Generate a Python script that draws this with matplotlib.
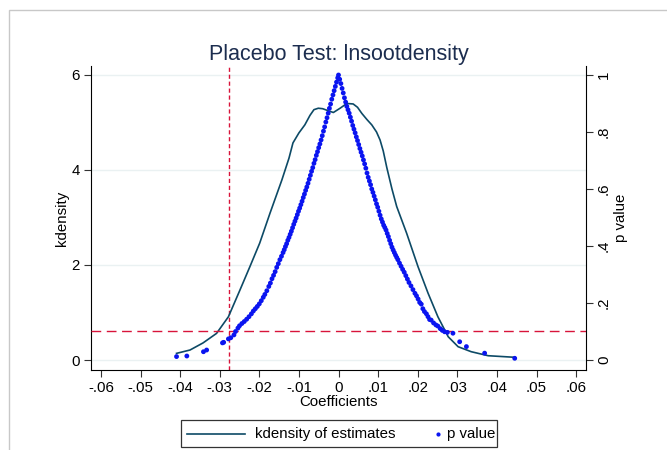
import matplotlib as mpl
mpl.use('Agg')
import matplotlib.pyplot as plt
from matplotlib.lines import Line2D
from matplotlib.patches import Rectangle

plt.rcParams['font.family'] = ['Liberation Sans', 'DejaVu Sans']

# kdensity of placebo estimates
kd_x = [-0.0409, -0.0375, -0.0342, -0.0308, -0.0278, -0.0249, -0.0224, -0.0199,
        -0.0173, -0.0143, -0.0125, -0.0115, -0.0100, -0.0085, -0.0072, -0.0062,
        -0.0051, -0.0040, -0.0030, -0.0013, 0.0004, 0.0021, 0.0037, 0.0048,
        0.0059, 0.0072, 0.0084, 0.0096, 0.0105, 0.0113, 0.0122, 0.0135, 0.0147,
        0.0172, 0.0201, 0.0226, 0.0251, 0.0277, 0.0302, 0.0335, 0.0378, 0.0445]
kd_y = [0.14, 0.21, 0.36, 0.56, 0.91, 1.47, 1.96, 2.46,
        3.09, 3.79, 4.25, 4.57, 4.78, 4.95, 5.15, 5.27,
        5.30, 5.29, 5.26, 5.21, 5.30, 5.40, 5.39, 5.32,
        5.19, 5.06, 4.95, 4.80, 4.63, 4.40, 4.05, 3.60, 3.23,
        2.67, 1.96, 1.41, 0.91, 0.49, 0.28, 0.175, 0.09, 0.057]

# p values of the placebo estimates
pv_x = [-0.0409, -0.0383, -0.0341, -0.0333, -0.0293, -0.0290, -0.0278, -0.0272,
        -0.0264, -0.0260, -0.0254, -0.0250, -0.0244, -0.0238, -0.0232, -0.0226,
        -0.0220, -0.0215, -0.0210, -0.0205, -0.0200, -0.0195, -0.0190, -0.0186,
        -0.0181, -0.0176, -0.0172, -0.0168, -0.0164, -0.0160, -0.0156, -0.0152,
        -0.0148, -0.0144, -0.0140, -0.0137, -0.0134, -0.0131, -0.0128, -0.0125,
        -0.0122, -0.0119, -0.0116, -0.0113, -0.0110, -0.0107, -0.0104, -0.0101,
        -0.0098, -0.0095, -0.0092, -0.0089, -0.0086, -0.0083, -0.0080, -0.0077,
        -0.0074, -0.0071, -0.0068, -0.0065, -0.0062, -0.0059, -0.0056, -0.0053,
        -0.0050, -0.0047, -0.0044, -0.0041, -0.0038, -0.0035, -0.0032, -0.0029,
        -0.0026, -0.0023, -0.0020, -0.0017, -0.0014, -0.0011, -0.0008, -0.0005,
        -0.0002, 0.0000,
        0.0003, 0.0006, 0.0009, 0.0012, 0.0015, 0.0018, 0.0021, 0.0024,
        0.0027, 0.0030, 0.0033, 0.0036, 0.0039, 0.0042, 0.0045, 0.0048,
        0.0051, 0.0054, 0.0057, 0.0060, 0.0063, 0.0066, 0.0069, 0.0072,
        0.0075, 0.0078, 0.0081, 0.0084, 0.0087, 0.0090, 0.0093, 0.0096,
        0.0099, 0.0102, 0.0105, 0.0108, 0.0111, 0.0114, 0.0117, 0.0120,
        0.0123, 0.0126, 0.0129, 0.0132, 0.0135, 0.0138, 0.0141, 0.0144,
        0.0147, 0.0150, 0.0154, 0.0158, 0.0162, 0.0166, 0.0170, 0.0174,
        0.0178, 0.0183, 0.0188, 0.0193, 0.0197, 0.0201, 0.0205, 0.0209,
        0.0213, 0.0217, 0.0222, 0.0226, 0.0230, 0.0234, 0.0240, 0.0246,
        0.0251, 0.0257, 0.0262, 0.0268, 0.0275, 0.0289, 0.0306, 0.0323,
        0.0369, 0.0445]
pv_y = [0.012, 0.014, 0.029, 0.035, 0.060, 0.062, 0.074, 0.078,
        0.088, 0.100, 0.112, 0.120, 0.128, 0.135, 0.143, 0.152,
        0.162, 0.172, 0.180, 0.188, 0.197, 0.208, 0.220, 0.230,
        0.243, 0.258, 0.270, 0.285, 0.297, 0.310, 0.325, 0.338,
        0.352, 0.364, 0.377, 0.387, 0.398, 0.408, 0.420, 0.430,
        0.441, 0.452, 0.464, 0.476, 0.487, 0.498, 0.510, 0.522,
        0.533, 0.545, 0.557, 0.570, 0.582, 0.595, 0.607, 0.620,
        0.634, 0.648, 0.662, 0.675, 0.690, 0.703, 0.718, 0.731,
        0.745, 0.758, 0.772, 0.787, 0.803, 0.818, 0.835, 0.850,
        0.866, 0.883, 0.898, 0.915, 0.930, 0.945, 0.960, 0.975,
        0.990, 1.000,
        0.985, 0.970, 0.953, 0.937, 0.920, 0.905, 0.890, 0.878,
        0.866, 0.852, 0.838, 0.823, 0.810, 0.797, 0.783, 0.770,
        0.756, 0.742, 0.729, 0.716, 0.702, 0.688, 0.673, 0.656,
        0.641, 0.628, 0.615, 0.600, 0.588, 0.575, 0.562, 0.548,
        0.536, 0.522, 0.508, 0.495, 0.484, 0.473, 0.465, 0.456,
        0.444, 0.433, 0.420, 0.408, 0.396, 0.386, 0.377, 0.368,
        0.360, 0.352, 0.340, 0.329, 0.318, 0.308, 0.296, 0.284,
        0.272, 0.260, 0.247, 0.234, 0.225, 0.214, 0.202, 0.196,
        0.180, 0.170, 0.162, 0.152, 0.142, 0.140, 0.130, 0.123,
        0.119, 0.110, 0.104, 0.099, 0.097, 0.094, 0.064, 0.047,
        0.024, 0.006]

true_coef = -0.0277
p_cut = 0.1

x_ticks = [-0.06, -0.05, -0.04, -0.03, -0.02, -0.01, 0, 0.01, 0.02, 0.03, 0.04, 0.05, 0.06]
x_labels = ['-.06', '-.05', '-.04', '-.03', '-.02', '-.01', '0', '.01', '.02', '.03', '.04', '.05', '.06']
y_ticks = [0, 2, 4, 6]
p_ticks = [0, 0.2, 0.4, 0.6, 0.8, 1]
p_labels = ['0', '.2', '.4', '.6', '.8', '1']

line_col = '#0d4a66'
dot_col = '#0a14f0'
red = '#d8143a'
fs = 10.8

W, H = 667, 450
fig = plt.figure(figsize=(6.67, 4.5), dpi=100)
# outer gray frame of the graph region
fig.patches.append(Rectangle((9 / W, -0.1), 1.2, 1.1 - 10 / H,
                             transform=fig.transFigure, fill=False,
                             edgecolor='#c8c8c8', lw=1.0))

ax1 = fig.add_axes([91 / W, 1 - 370 / H, (586 - 91) / W, (370 - 66) / H])
ax2 = ax1.twinx()

for y in y_ticks:
    ax1.axhline(y, color='#eaf1f2', lw=1.0, zorder=0)

ax1.plot(kd_x, kd_y, color=line_col, lw=1.2, zorder=3)
ax1.axvline(true_coef, color=red, lw=1.0, ls=(0, (3, 2)), zorder=2)
ax2.axhline(p_cut, color=red, lw=1.0, ls=(0, (7, 4)), zorder=2)
ax2.scatter(pv_x, pv_y, s=12, color=dot_col, edgecolors='none', zorder=4)

ax1.set_xlim(-0.0625, 0.0625)
ax1.set_ylim(-0.2105, 6.189)
ax2.set_ylim(-0.0351, 1.0316)

ax1.set_xticks(x_ticks)
ax1.set_xticklabels(x_labels, fontsize=fs)
ax1.set_yticks(y_ticks)
ax1.set_yticklabels([str(v) for v in y_ticks], fontsize=fs)
ax2.set_yticks(p_ticks)
ax2.set_yticklabels(p_labels, fontsize=fs, rotation=90, va='center')

for a in (ax1, ax2):
    a.spines['top'].set_visible(False)
    a.tick_params(direction='out', length=5, width=0.8, color='#333333', pad=3)
ax1.spines['right'].set_visible(False)
ax2.spines['left'].set_visible(False)
ax2.spines['bottom'].set_visible(False)

ax1.set_xlabel('Coefficients', fontsize=fs, labelpad=0)
ax1.set_ylabel('kdensity', fontsize=fs, labelpad=2)
ax2.set_ylabel('p value', fontsize=fs, labelpad=2)
ax1.set_title('Placebo Test: lnsootdensity', fontsize=15.5, color='#1c2d4f', pad=4)

# legend box drawn by hand (Stata style layout)
fig.patches.append(Rectangle((181 / W, 1 - 447 / H), 316 / W, 27 / H,
                             transform=fig.transFigure, fill=False,
                             edgecolor='#333333', lw=0.9))
ly = 1 - 434 / H
fig.add_artist(Line2D([187 / W, 245 / W], [ly, ly], color=line_col, lw=1.2,
                      transform=fig.transFigure))
fig.text(255 / W, ly, 'kdensity of estimates', fontsize=fs, va='center', ha='left')
fig.add_artist(Line2D([438 / W], [ly], color=dot_col, marker='.', markersize=4,
                      linestyle='None', transform=fig.transFigure))
fig.text(447 / W, ly, 'p value', fontsize=fs, va='center', ha='left')

plt.savefig('out.png', dpi=100)
